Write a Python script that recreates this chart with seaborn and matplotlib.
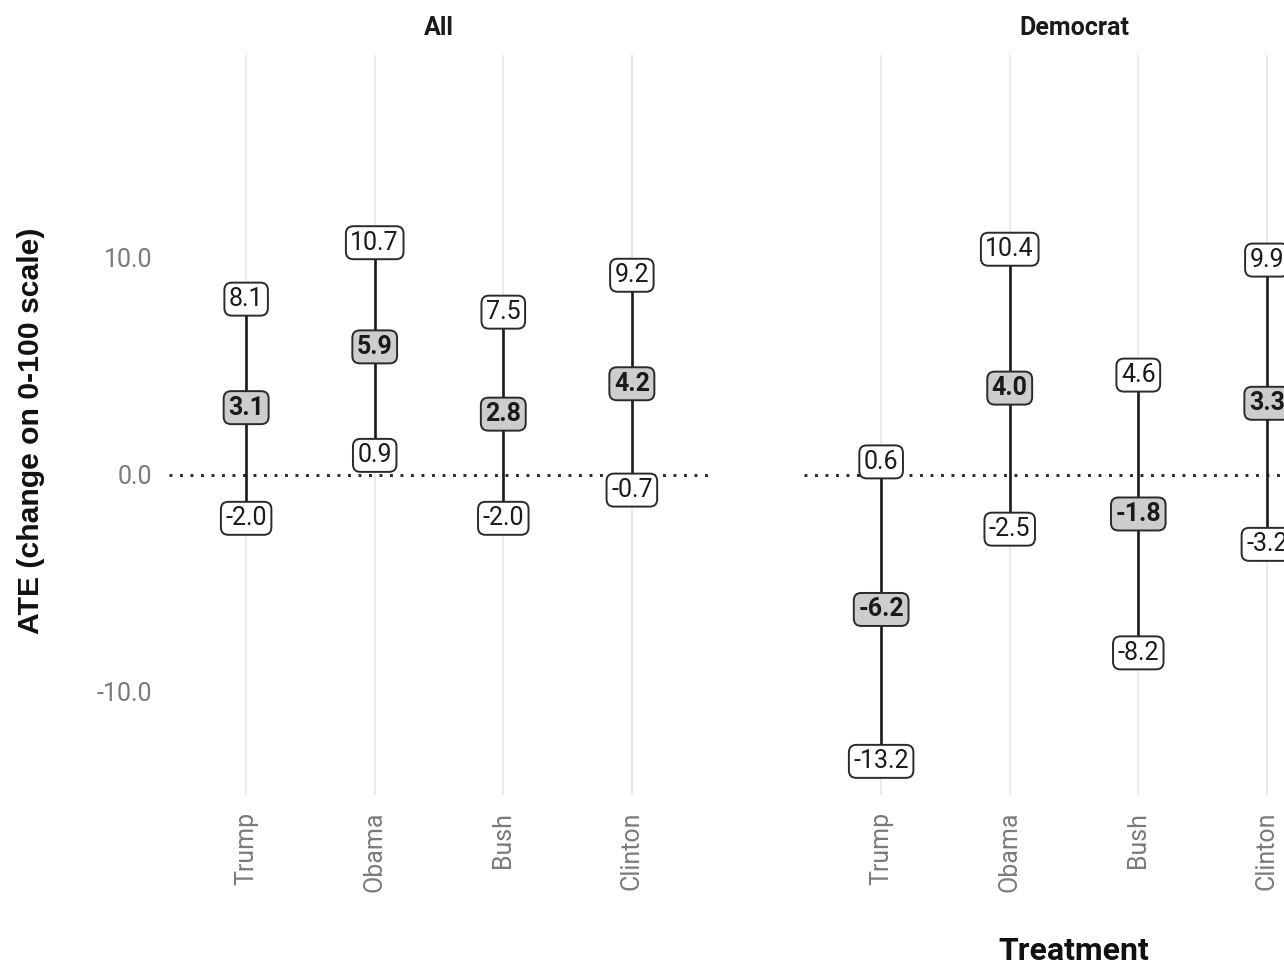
import pandas as pd
import matplotlib.pyplot as plt
import seaborn as sns

treatments = ["Trump", "Obama", "Bush", "Clinton"]
groups = ["All", "Democrat"]

all_est = [3.1, 5.9, 2.8, 4.2]
all_low = [-2.0, 0.9, -2.0, -0.7]
all_high = [8.1, 10.7, 7.5, 9.2]

dem_est = [-6.2, 4.0, -1.8, 3.3]
dem_low = [-13.2, -2.5, -8.2, -3.2]
dem_high = [0.6, 10.4, 4.6, 9.9]

y_ticks = [-10, 0, 10]
y_tick_labels = ["-10.0", "0.0", "10.0"]

sns.set_theme(style="white")
plt.rcParams['font.family'] = ['Roboto', 'DejaVu Sans']

# long table: one row per (group, treatment, kind)
rows = []
for g, est, low, high in [("All", all_est, all_low, all_high),
                          ("Democrat", dem_est, dem_low, dem_high)]:
    for t, e, lo, hi in zip(treatments, est, low, high):
        rows.append({"group": g, "treatment": t, "kind": "low", "value": lo})
        rows.append({"group": g, "treatment": t, "kind": "est", "value": e})
        rows.append({"group": g, "treatment": t, "kind": "high", "value": hi})
df = pd.DataFrame(rows)

W, H = 1284, 968
fig = plt.figure(figsize=(W / 100, H / 100), dpi=100)
# panel boxes in pixels (left, top, width, height); second panel runs past the edge
panels = [(169, 55, 540, 740), (804, 55, 540, 740)]

grey_tick = "#7a7a7a"
for i, g in enumerate(groups):
    l, t, w, h = panels[i]
    ax = fig.add_axes([l / W, 1 - (t + h) / H, w / W, h / H])
    sub = df[df["group"] == g]
    sns.lineplot(data=sub, x="treatment", y="value", units="treatment",
                 estimator=None, sort=False, color="#1a1a1a", lw=1.9, ax=ax,
                 zorder=2)
    ax.axhline(0, color="#2a2a2a", lw=2.1, ls=(0, (1, 2.6)), zorder=1)

    pos = {name: k for k, name in enumerate(treatments)}
    for _, r in sub.iterrows():
        is_est = r["kind"] == "est"
        ax.text(pos[r["treatment"]], r["value"], f"{r['value']:.1f}",
                ha="center", va="center", fontsize=18,
                fontweight="bold" if is_est else "normal",
                color="#1a1a1a", zorder=4,
                bbox=dict(boxstyle="round,pad=0.18,rounding_size=0.3",
                          fc="#cdcdcd" if is_est else "white",
                          ec="#2a2a2a", lw=1.4))

    ax.set_xlim(-0.6, 3.6)
    ax.set_ylim(-14.75, 19.35)
    ax.set_xticks(range(len(treatments)))
    ax.set_xticklabels(treatments, rotation=90, fontsize=18, color=grey_tick)
    ax.set_yticks(y_ticks)
    if i == 0:
        ax.set_yticklabels(y_tick_labels, fontsize=18, color=grey_tick)
    else:
        ax.set_yticklabels([])
    ax.tick_params(axis="both", length=0, pad=12)
    ax.grid(axis="x", color="#e6e6e6", lw=1.2)
    ax.grid(axis="y", visible=False)
    ax.set_axisbelow(True)
    for s in ax.spines.values():
        s.set_visible(False)
    ax.set_xlabel("")
    ax.set_ylabel("")
    fig.text((l + w / 2) / W, 1 - 28 / H, g, ha="center", va="center",
             fontsize=18, fontweight="bold", color="#1a1a1a")

fig.text(31 / W, 1 - 431 / H, "ATE (change on 0-100 scale)", rotation=90,
         ha="center", va="center", fontsize=21.7, fontweight="bold",
         color="#111111", family=["Liberation Sans", "DejaVu Sans"])
fig.text(1074 / W, 1 - 951 / H, "Treatment", ha="center", va="center",
         fontsize=23, fontweight="bold", color="#111111")

fig.savefig("out.png", dpi=100, facecolor="white")
